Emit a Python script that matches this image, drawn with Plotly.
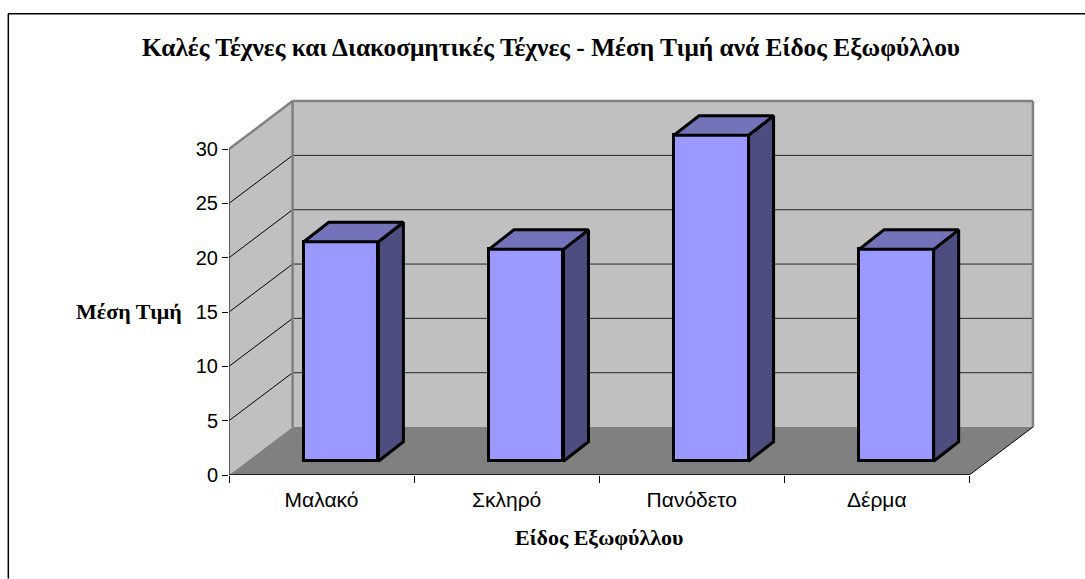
import plotly.graph_objects as go

# --- data ---
categories = ["Μαλακό", "Σκληρό", "Πανόδετο", "Δέρμα"]
values = [20.2, 19.5, 30.0, 19.5]
y_ticks = [0, 5, 10, 15, 20, 25, 30]
title_text = "Καλές Τέχνες και Διακοσμητικές Τέχνες - Μέση Τιμή ανά Είδος Εξωφύλλου"
x_title_text = "Είδος Εξωφύλλου"
y_title_text = "Μέση Τιμή"

# --- scale / style ---
W, H = 1085, 579
PX_X = 185.1    # px per category
PX_Y = 10.87    # px per value unit
X0_PX, Y0_PX = 228.7, 475.5
DX, DY = 63.6 / PX_X, 48.0 / PX_Y          # wall depth (axis units)
BDX, BDY = 25.0 / PX_X, 19.5 / PX_Y        # bar depth
BAR_L, BAR_W = 74.8 / PX_X, 74.6 / PX_X    # bar front face within category
BASE = 13.8 / PX_Y                         # bar front base above the floor edge
XMAX, YMAX = 4.36, 34.7
YTOP = max(y_ticks)
N = len(categories)
SERIF = "Liberation Serif"
SANS = "Liberation Sans"
FRONT, TOP, SIDE = "#9999FF", "#7373BA", "#4D4D80"
WALL, FLOOR, EDGE = "#C0C0C0", "#808080", "#808080"
BAR_EDGE = 3

PLOT_W, PLOT_H = XMAX * PX_X, YMAX * PX_Y
PLOT_TOP = Y0_PX - PLOT_H


def poly(pts):
    return "M " + " L ".join(f"{a},{b}" for a, b in pts) + " Z"


def px(xp):
    return (xp - X0_PX) / PLOT_W


def py(yp):
    return (Y0_PX - yp) / PLOT_H


shapes = [
    dict(type="path", path=poly([(0, 0), (DX, DY), (DX, YTOP + DY), (0, YTOP)]),
         fillcolor=WALL, line=dict(width=0), layer="below"),
    dict(type="path", path=poly([(DX, DY), (N + DX, DY), (N + DX, YTOP + DY), (DX, YTOP + DY)]),
         fillcolor=WALL, line=dict(width=0), layer="below"),
    dict(type="path", path=poly([(0, 0), (N, 0), (N + DX, DY), (DX, DY)]),
         fillcolor=FLOOR, line=dict(width=0), layer="below"),
]
for t in y_ticks[1:-1]:
    shapes.append(dict(type="line", x0=0, y0=t, x1=DX, y1=t + DY, layer="below",
                       line=dict(color="#000000", width=1)))
    shapes.append(dict(type="line", x0=DX, y0=t + DY, x1=N + DX, y1=t + DY, layer="below",
                       line=dict(color="#262626", width=1)))
# wall edges
for a, b in [((0, YTOP), (DX, YTOP + DY)), ((DX, YTOP + DY), (N + DX, YTOP + DY)),
             ((DX, DY), (DX, YTOP + DY)), ((N + DX, DY), (N + DX, YTOP + DY))]:
    shapes.append(dict(type="line", x0=a[0], y0=a[1], x1=b[0], y1=b[1], layer="below",
                       line=dict(color=EDGE, width=2.5)))
# page frame (left and top only)
shapes += [
    dict(type="line", xref="paper", yref="paper", x0=px(8), x1=px(8), y0=py(14), y1=py(H),
         line=dict(color="#000000", width=1.5)),
    dict(type="line", xref="paper", yref="paper", x0=px(8), x1=px(W), y0=py(14), y1=py(14),
         line=dict(color="#000000", width=1.5)),
]

fig = go.Figure()

xs = [i + BAR_L + BAR_W / 2 for i in range(N)]
fig.add_trace(go.Bar(x=xs, y=values, base=[BASE] * N, width=BAR_W,
                     marker=dict(color=FRONT, line=dict(color="#000000", width=BAR_EDGE)),
                     hoverinfo="y", showlegend=False))

for i, v in enumerate(values):
    x0 = i + BAR_L
    x1 = x0 + BAR_W
    t = BASE + v
    top = [(x0, t), (x1, t), (x1 + BDX, t + BDY), (x0 + BDX, t + BDY), (x0, t)]
    side = [(x1, BASE), (x1 + BDX, BASE + BDY), (x1 + BDX, t + BDY), (x1, t), (x1, BASE)]
    for pts, col in ((side, SIDE), (top, TOP)):
        fig.add_trace(go.Scatter(x=[p[0] for p in pts], y=[p[1] for p in pts], mode="lines",
                                 fill="toself", fillcolor=col,
                                 line=dict(color="#000000", width=BAR_EDGE),
                                 hoverinfo="skip", showlegend=False))

# axis lines (left, bottom, floor's right edge)
for xv, yv, col, w in [([0, 0], [0, YTOP], "#404040", 1.5),
                       ([0, N], [0, 0], "#000000", 1.5),
                       ([N, N + DX], [0, DY], "#000000", 1)]:
    fig.add_trace(go.Scatter(x=xv, y=yv, mode="lines", cliponaxis=False,
                             line=dict(color=col, width=w),
                             hoverinfo="skip", showlegend=False))

annotations = [
    dict(text=y_title_text, xref="paper", yref="paper", x=px(128.5), y=py(312), showarrow=False,
         xanchor="center", yanchor="middle",
         font=dict(family=SERIF, size=22, color="#000000", weight="bold")),
    dict(text=x_title_text, xref="paper", yref="paper", x=px(599), y=py(538), showarrow=False,
         xanchor="center", yanchor="middle",
         font=dict(family=SERIF, size=22, color="#000000", weight="bold")),
]

fig.update_layout(
    width=W, height=H,
    margin=dict(l=X0_PX, r=W - X0_PX - PLOT_W, b=H - Y0_PX, t=PLOT_TOP, pad=0),
    paper_bgcolor="#FFFFFF", plot_bgcolor="#FFFFFF",
    showlegend=False, bargap=0,
    shapes=shapes, annotations=annotations,
    title=dict(text=title_text, x=551 / W, xanchor="center", y=1 - 47 / H, yanchor="middle",
               font=dict(family=SERIF, size=25.4, color="#000000", weight="bold")),
    xaxis=dict(range=[0, XMAX], tickmode="array", tickvals=[i + 0.5 for i in range(N)],
               ticktext=categories, ticks="", showgrid=False, zeroline=False, showline=False,
               tickfont=dict(family=SANS, size=21, color="#000000"), ticklabelstandoff=10,
               minor=dict(tickmode="array", tickvals=list(range(N + 1)), ticks="outside",
                          ticklen=7, tickwidth=1, tickcolor="#000000", showgrid=False)),
    yaxis=dict(range=[0, YMAX], tickmode="array", tickvals=y_ticks, ticks="outside",
               ticklen=6, tickwidth=1, tickcolor="#000000", showgrid=False, zeroline=False,
               showline=False, tickfont=dict(family=SANS, size=20, color="#000000")),
)

fig.write_html("out.html", config=dict(displayModeBar=False),
               post_script="document.body.style.margin='0';document.body.style.overflow='hidden';")
